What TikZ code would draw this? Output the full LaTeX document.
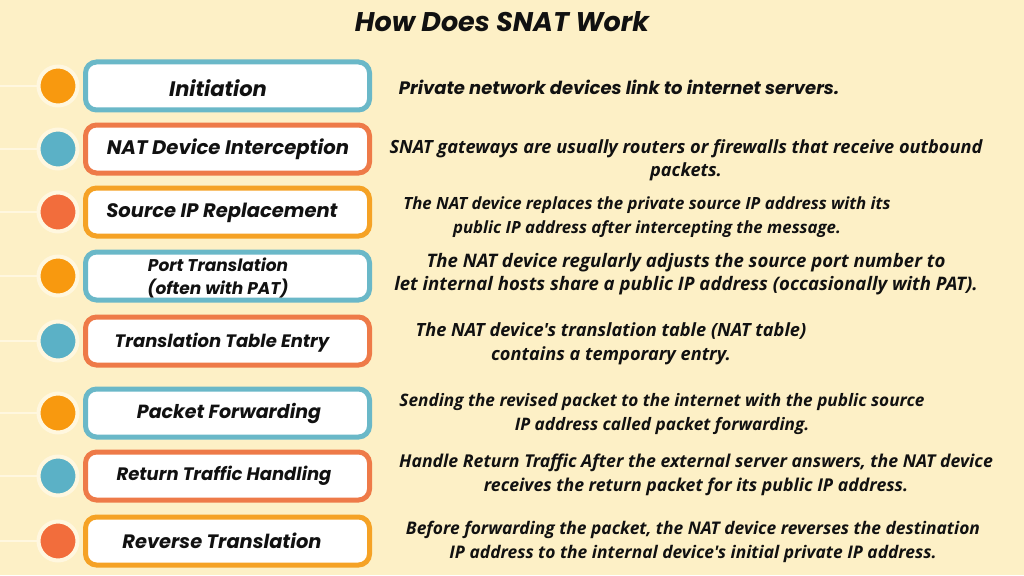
\documentclass[tikz,border=0pt]{standalone}
\usepackage{fontspec}
\newfontfamily\popf{Poppins}
\newfontfamily\descf{Open Sans}
\definecolor{bgc}{HTML}{FDF0C6}
\definecolor{tealc}{HTML}{6AB8C8}
\definecolor{redc}{HTML}{EE7A48}
\definecolor{orgc}{HTML}{F5A225}
\definecolor{corg}{HTML}{F8990F}
\definecolor{cteal}{HTML}{5BB1C6}
\definecolor{cred}{HTML}{F26D3C}
\definecolor{haloc}{HTML}{FFF7DF}
\definecolor{txt}{HTML}{111111}
\newcommand\lfs[1]{\popf\bfseries\itshape\fontsize{#1}{1.15\dimexpr#1pt\relax}\selectfont}
\newcommand\dfs[1]{\descf\bfseries\itshape\fontsize{#1}{23.5}\selectfont}
\tikzset{
  stepbox/.style={draw=#1, line width=5pt, fill=white, rounded corners=11pt,
    minimum width=284pt, minimum height=48pt, inner sep=0pt},
  dot/.style={circle, fill=#1, draw=haloc, line width=4pt, minimum size=39pt, inner sep=0pt},
  lab/.style={text=txt, align=center},
  desc/.style={text=txt, align=center},
  feed/.style={draw=haloc, line width=1.5pt}
}
\begin{document}
\begin{tikzpicture}[x=1pt,y=-1pt]
\fill[bgc] (0,0) rectangle (1024,575);
\useasboundingbox (0,0) rectangle (1024,575);
\node[font=\lfs{27}, text=txt] (title) at (502,22) {How Does SNAT Work};
% rows
\foreach \i/\y/\bc/\cc in {1/86/tealc/corg, 2/149/redc/cteal, 3/212/orgc/cred, 4/276/tealc/corg, 5/341/redc/cteal, 6/413/tealc/corg, 7/476/redc/cteal, 8/541/orgc/cred}{
  \coordinate (l\i) at (0,\y);
  \node[stepbox=\bc] (b\i) at (227.5,\y) {};
  \node[dot=\cc] (c\i) at (58,\y) {};
  \draw[feed] (l\i) -- (c\i.west);
}
\node[lab, font=\lfs{21}] (t1) at (218,88) {Initiation};
\node[lab, font=\lfs{19.6}] (t2) at (228,149) {NAT Device Interception};
\node[lab, font=\lfs{19.5}] (t3) at (222,213) {Source IP Replacement};
\node[lab, font=\popf\bfseries\itshape\fontsize{17}{23}\selectfont] (t4) at (218,278) {Port Translation\\(often with PAT)};
\node[lab, font=\lfs{18}] (t5) at (222,343) {Translation Table Entry};
\node[lab, font=\lfs{19}] (t6) at (229,413) {Packet Forwarding};
\node[lab, font=\lfs{18}] (t7) at (224,476) {Return Traffic Handling};
\node[lab, font=\lfs{19.4}] (t8) at (222,541) {Reverse Translation};
% descriptions
\node[desc, font=\lfs{18}] (d1) at (619,87) {Private network devices link to internet servers.};
\node[desc, font=\dfs{18.2}] (d2) at (686,160) {SNAT gateways are usually routers or firewalls that receive outbound\\packets.};
\node[desc, font=\dfs{16.8}] (d3) at (647,217) {The NAT device replaces the private source IP address with its\\public IP address after intercepting the message.};
\node[desc, font=\dfs{18.6}] (d4) at (686,274) {The NAT device regularly adjusts the source port number to\\let internal hosts share a public IP address (occasionally with PAT).};
\node[desc, font=\dfs{18.2}] (d5) at (611,344) {The NAT device's translation table (NAT table)\\contains a temporary entry.};
\node[desc, font=\dfs{17.2}] (d6) at (662,414) {Sending the revised packet to the internet with the public source\\IP address called packet forwarding.};
\node[desc, font=\dfs{17.7}] (d7) at (696,475) {Handle Return Traffic After the external server answers, the NAT device\\receives the return packet for its public IP address.};
\node[desc, font=\dfs{17.4}] (d8) at (693,542) {Before forwarding the packet, the NAT device reverses the destination\\IP address to the internal device's initial private IP address.};
\end{tikzpicture}
\end{document}
